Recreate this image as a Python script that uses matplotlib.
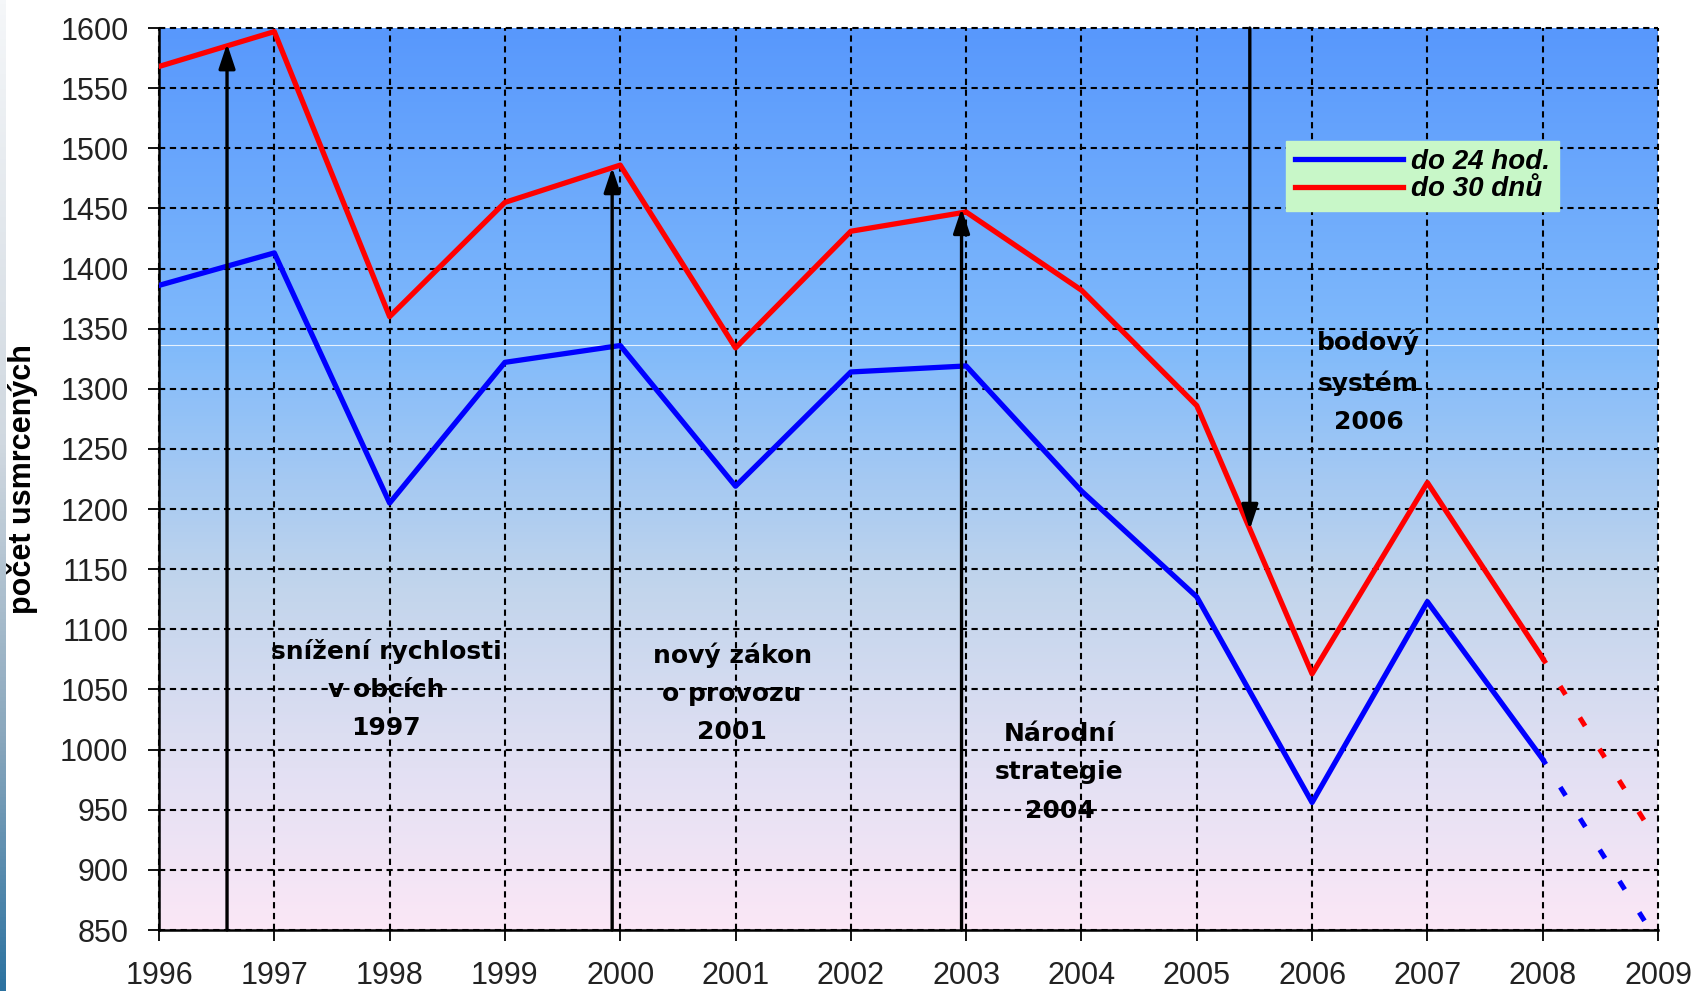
import numpy as np
import matplotlib.pyplot as plt
from matplotlib.colors import LinearSegmentedColormap

# pocet usmrcenych v CR
years = list(range(1996, 2009))
hod24 = [1386, 1413, 1205, 1322, 1336, 1219, 1314, 1319, 1215, 1127, 956, 1123, 992]
dni30 = [1568, 1597, 1360, 1455, 1486, 1334, 1431, 1447, 1382, 1286, 1063, 1222, 1076]

# predpoklad 2008 -> 2009 (carkovane)
proj_x = [2008, 2008.9]
proj_24 = [992, 855]
proj_30 = [1076, 938]

# sipky (opatreni)
arrow_x = [1996.59, 1999.93, 2002.96, 2005.46]
arrow_from = [850, 850, 850, 1600]
arrow_to = [1587, 1484, 1450, 1183]

notes = ["snížení rychlosti\nv obcích\n1997",
         "nový zákon\no provozu\n2001",
         "Národní\nstrategie\n2004",
         "bodový\nsystém\n2006"]
note_x = [1997.97, 2000.97, 2003.81, 2006.49]
note_y = [1050, 1047, 981, 1306]

xticks = list(range(1996, 2010))
yticks = list(range(850, 1601, 50))

fig = plt.figure(figsize=(16.97, 9.91), dpi=100)

# levy pruh (pozadi slidu)
strip = fig.add_axes([0, 0, 6/1697, 1])
scm = LinearSegmentedColormap.from_list('strip', [(0, '#f5f7f9'), (0.45, '#d0d8e0'),
                                                  (0.75, '#88a6bc'), (1, '#2c72a0')])
strip.imshow(np.linspace(0, 1, 256).reshape(-1, 1), aspect='auto', cmap=scm)
strip.axis('off')

ax = fig.add_axes([159/1697, 1 - 930/991, 1499/1697, 902/991])

bcm = LinearSegmentedColormap.from_list('bg', [(0, '#5898fd'), (0.35, '#80bafb'),
                                               (0.62, '#c2d5ec'), (0.82, '#e2e0f3'),
                                               (1, '#fbe7f6')])
ax.imshow(np.linspace(0, 1, 256).reshape(-1, 1), aspect='auto', cmap=bcm,
          extent=[1996, 2009, 850, 1600], zorder=0)
ax.axhline(1336.4, color='white', lw=0.8, alpha=0.8, zorder=0.5)

ax.plot(years, hod24, color='#0000ff', lw=3.8, label='do 24 hod.', zorder=3)
ax.plot(years, dni30, color='#ff0000', lw=3.8, label='do 30 dnů', zorder=3)
ax.plot(proj_x, proj_24, color='#0000ff', lw=3.6, ls=(0.8, (2, 5.4)), zorder=3)
ax.plot(proj_x, proj_30, color='#ff0000', lw=3.6, ls=(0.8, (2, 5.4)), zorder=3)

for x, y0, y1 in zip(arrow_x, arrow_from, arrow_to):
    ax.annotate('', xy=(x, y1), xytext=(x, y0), zorder=4,
                arrowprops=dict(arrowstyle='-|>,head_length=0.75,head_width=0.25',
                                color='black', lw=2.4, mutation_scale=20,
                                shrinkA=0, shrinkB=0))

for t, x, y in zip(notes, note_x, note_y):
    ax.text(x, y, t, ha='center', va='center', multialignment='center',
            fontsize=18, fontweight='bold', family='DejaVu Sans',
            linespacing=1.75, color='black', zorder=5)

ax.set_xlim(1996, 2009)
ax.set_ylim(850, 1600)
ax.set_xticks(xticks)
ax.set_yticks(yticks)
ax.tick_params(axis='both', direction='out', length=8, width=1.3, colors='black',
               labelsize=22, labelcolor='#222222')
ax.tick_params(axis='y', pad=14)
ax.tick_params(axis='x', pad=14)
for lab in ax.get_xticklabels() + ax.get_yticklabels():
    lab.set_family('Liberation Sans')

ax.grid(True, color='black', lw=1.5, ls=(0, (3, 2.2)))
for gl in ax.get_xgridlines() + ax.get_ygridlines():
    gl.set_clip_on(False)
ax.spines['top'].set_visible(False)
ax.spines['right'].set_visible(False)
ax.spines['left'].set_linewidth(1.8)
ax.spines['bottom'].set_linewidth(1.8)

ax.set_ylabel('počet usmrcených', fontsize=22, fontweight='bold', family='Liberation Sans')
ax.yaxis.set_label_coords(-0.081, 0.5)

leg = ax.legend(loc='upper left', bbox_to_anchor=(0.752, 0.875), frameon=True,
                fancybox=False, framealpha=1, facecolor='#c8f7c8', edgecolor='#c8f7c8',
                prop={'family': 'Liberation Sans', 'style': 'italic', 'weight': 'bold', 'size': 20},
                handlelength=3.9, handletextpad=0.3, labelspacing=0.05, borderpad=0.3,
                borderaxespad=0)
leg.set_zorder(6)

plt.savefig('out.png', dpi=100)
